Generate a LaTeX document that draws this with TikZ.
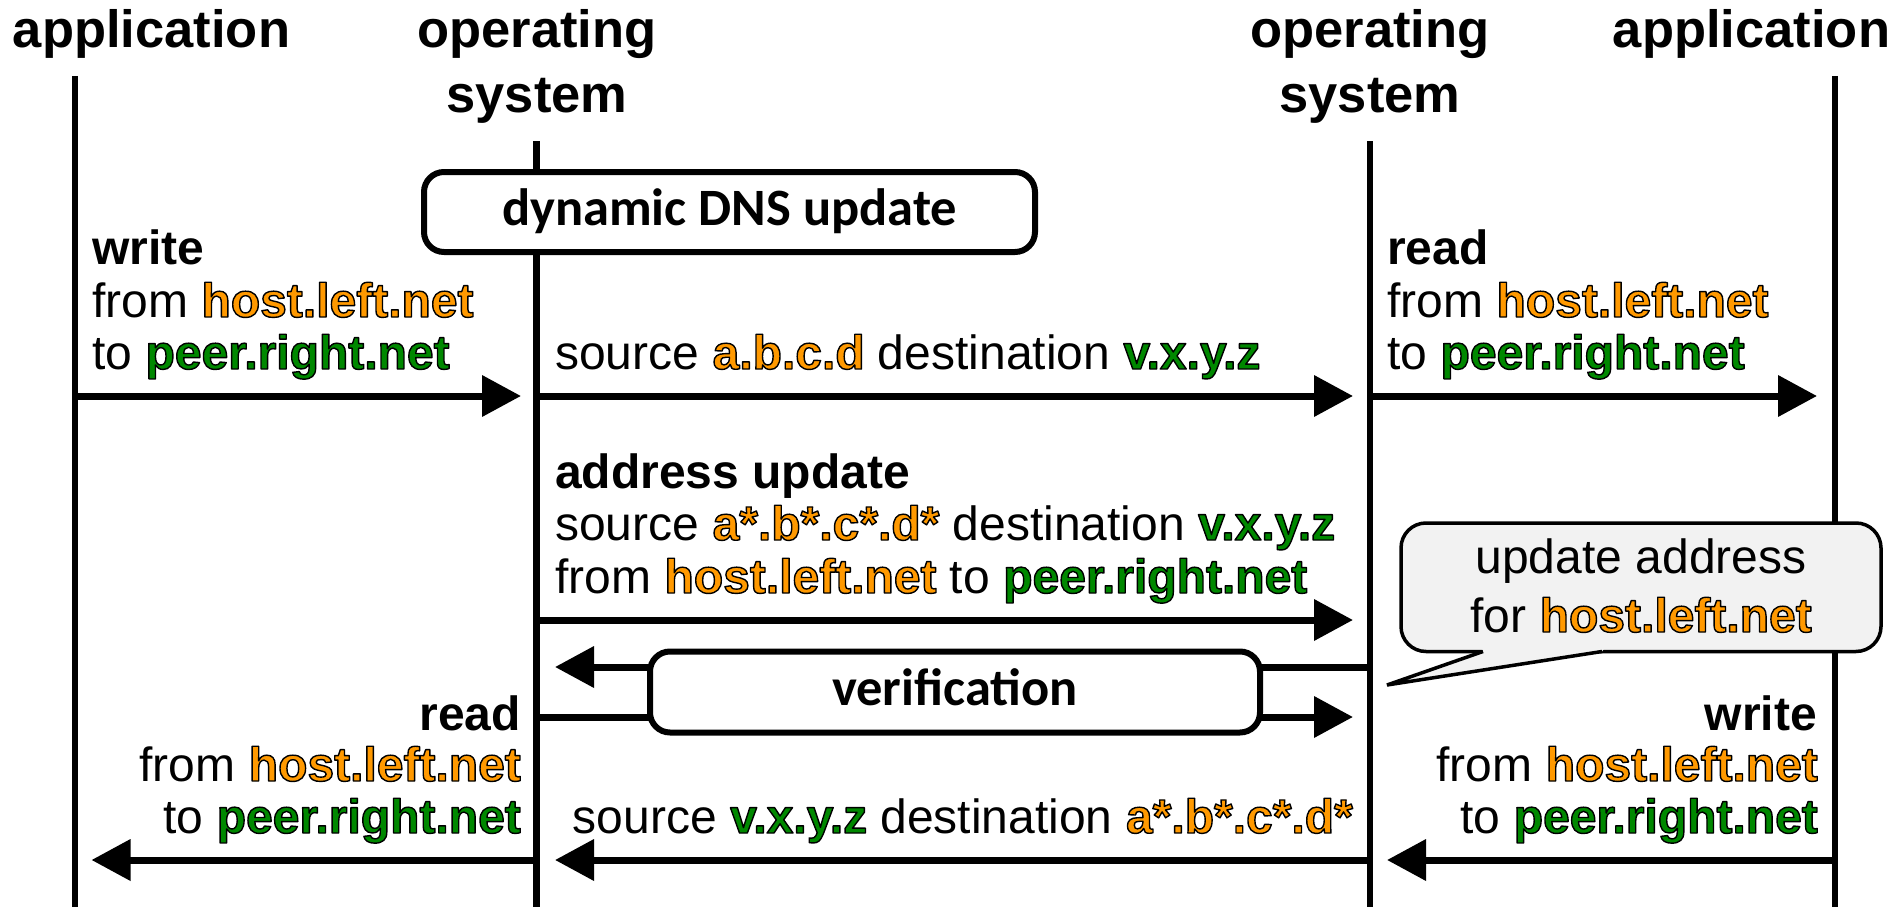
\documentclass[tikz,border=0pt]{standalone}
\usepackage{fontspec}
\setmainfont{Liberation Sans}
\newfontfamily\boxfont{Carlito}
\usetikzlibrary{arrows.meta}

\definecolor{hostorange}{RGB}{255,153,0}
\definecolor{peergreen}{RGB}{0,136,0}
\definecolor{calloutgray}{RGB}{242,242,242}

% coloured bold names with a thin black outline (fill + stroke text rendering)
\newcommand\outlined[2]{{\bfseries\color{#1}\special{pdf:literal direct 2 Tr 1.4 w 1 j 0 G}#2\special{pdf:literal direct 0 Tr}}}
\newcommand\hostname[1]{\outlined{hostorange}{#1}}
\newcommand\peername[1]{\outlined{peergreen}{#1}}

\begin{document}
\begin{tikzpicture}[x=1pt,y=-1pt,
  lifeline/.style={line width=6.5pt},
  msg/.style={line width=7pt,-{Triangle[length=39pt,width=40pt]}},
  lbl/.style={inner sep=0pt,font=\fontsize{48}{53}\selectfont},
  head/.style={inner sep=0pt,font=\fontsize{52.5}{60}\selectfont\bfseries},
  phase/.style={draw,fill=white,line width=6pt,rounded corners=20pt,inner sep=0pt,
    font=\boxfont\bfseries\fontsize{52.5}{60}\selectfont,text height=37pt,text depth=11pt},
  callout/.style={draw,fill=calloutgray,line width=3.5pt}]

\useasboundingbox (0,0) rectangle (1899,907);

% participants
\node[head,anchor=base] (hAppL) at (151.5,48) {application};
\node[head,anchor=base] (hOsL1) at (537,48) {operating};
\node[head,anchor=base] (hOsL2) at (537,112) {system};
\node[head,anchor=base] (hOsR1) at (1370,48) {operating};
\node[head,anchor=base] (hOsR2) at (1370,112) {system};
\node[head,anchor=base] (hAppR) at (1751.5,48) {application};

% lifelines
\coordinate (appLtop) at (75,76);   \coordinate (appLbot) at (75,910);
\coordinate (osLtop) at (536.5,141); \coordinate (osLbot) at (536.5,910);
\coordinate (osRtop) at (1370,141);  \coordinate (osRbot) at (1370,910);
\coordinate (appRtop) at (1835,76);  \coordinate (appRbot) at (1835,910);
\draw[lifeline] (appLtop) -- (appLbot);
\draw[lifeline] (osLtop) -- (osLbot);
\draw[lifeline] (osRtop) -- (osRbot);
\draw[lifeline] (appRtop) -- (appRbot);

% phase label on the left system
\node[phase,minimum width=611pt,minimum height=80pt] (dns) at (729.5,212) {dynamic DNS update};

% first exchange
\node[lbl,anchor=base west] (w1) at (92,264) {\bfseries write};
\node[lbl,anchor=base west] (w2) at (92,317) {from \hostname{host.left.net}};
\node[lbl,anchor=base west] (w3) at (92,369) {to \peername{peer.right.net}};
\node[lbl,anchor=base west] (p1) at (555,369) {source \hostname{a.b.c.d} destination \peername{v.x.y.z}};
\node[lbl,anchor=base west] (r1) at (1387,264) {\bfseries read};
\node[lbl,anchor=base west] (r2) at (1387,317) {from \hostname{host.left.net}};
\node[lbl,anchor=base west] (r3) at (1387,369) {to \peername{peer.right.net}};

\coordinate (m1a) at (75,396);    \coordinate (m1b) at (521,396);
\coordinate (m2a) at (536.5,396); \coordinate (m2b) at (1353,396);
\coordinate (m3a) at (1370,396);  \coordinate (m3b) at (1817,396);
\draw[msg] (m1a) -- (m1b);
\draw[msg] (m2a) -- (m2b);
\draw[msg] (m3a) -- (m3b);

% address update
\node[lbl,anchor=base west] (u1) at (555,488) {\bfseries address update};
\node[lbl,anchor=base west] (u2) at (555,540) {source \hostname{a*.b*.c*.d*} destination \peername{v.x.y.z}};
\node[lbl,anchor=base west] (u3) at (555,593) {from \hostname{host.left.net} to \peername{peer.right.net}};
\coordinate (m4a) at (536.5,620); \coordinate (m4b) at (1353,620);
\draw[msg] (m4a) -- (m4b);

% verification round trip
\coordinate (m5a) at (1370,667);  \coordinate (m5b) at (555,667);
\coordinate (m6a) at (536.5,717); \coordinate (m6b) at (1353,717);
\draw[msg] (m5a) -- (m5b);
\draw[msg] (m6a) -- (m6b);
\node[phase,minimum width=610pt,minimum height=81pt] (ver) at (955,692) {verification};

% callout on the right system
\draw[callout,rounded corners=25pt] (1401,523) rectangle (1881,651.5);
\fill[calloutgray] (1480,646) -- (1483,651.5) -- (1387,685) -- (1602,651.5) -- (1606,646) -- cycle;
\draw[line width=3.5pt] (1483,651.5) -- (1387,685) -- (1602,651.5);
\node[lbl,anchor=base] (c1) at (1641,573) {update address};
\node[lbl,anchor=base] (c2) at (1641,632) {for \hostname{host.left.net}};

% reverse direction
\node[lbl,anchor=base east] (rr1) at (521,730) {\bfseries read};
\node[lbl,anchor=base east] (rr2) at (521,781) {from \hostname{host.left.net}};
\node[lbl,anchor=base east] (rr3) at (521,833) {to \peername{peer.right.net}};
\node[lbl,anchor=base east] (p2) at (1353,833) {source \peername{v.x.y.z} destination \hostname{a*.b*.c*.d*}};
\node[lbl,anchor=base east] (ww1) at (1817,730) {\bfseries write};
\node[lbl,anchor=base east] (ww2) at (1818,781) {from \hostname{host.left.net}};
\node[lbl,anchor=base east] (ww3) at (1818,833) {to \peername{peer.right.net}};

\coordinate (m7a) at (536.5,860); \coordinate (m7b) at (91.5,860);
\coordinate (m8a) at (1370,860);  \coordinate (m8b) at (555,860);
\coordinate (m9a) at (1835,860);  \coordinate (m9b) at (1387,860);
\draw[msg] (m7a) -- (m7b);
\draw[msg] (m8a) -- (m8b);
\draw[msg] (m9a) -- (m9b);

\end{tikzpicture}
\end{document}
